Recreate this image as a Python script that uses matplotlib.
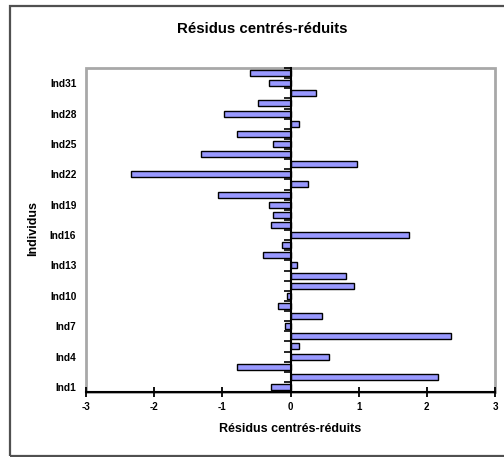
import matplotlib
matplotlib.use("Agg")
import matplotlib.pyplot as plt
from matplotlib.patches import Rectangle
from matplotlib.ticker import FixedLocator
import numpy as np

plt.rcParams['font.family'] = ['Liberation Sans', 'DejaVu Sans']

# Standardised residuals per individual (Ind1 .. Ind32)
individuals = [f"Ind{i}" for i in range(1, 33)]
residuals = [-0.29, 2.16, -0.78, 0.57, 0.13, 2.35, -0.08, 0.46,
             -0.18, -0.05, 0.93, 0.82, 0.10, -0.41, -0.12, 1.74,
             -0.29, -0.26, -0.32, -1.06, 0.25, -2.34, 0.98, -1.32,
             -0.26, -0.79, 0.12, -0.97, -0.47, 0.37, -0.32, -0.59]
x_ticks = [-3, -2, -1, 0, 1, 2, 3]
label_step = 3

W, H = 504, 457
fig = plt.figure(figsize=(W / 100, H / 100), dpi=100)
fig.patch.set_facecolor('white')

# outer chart frame
fig.patches.append(Rectangle((10 / W, 1.5 / H), 1.2, (455.5 - 6) / H,
                             transform=fig.transFigure, fill=False,
                             edgecolor='#505050', linewidth=1.6))

left, right, top, bottom = 86, 495, 68, 392
ax = fig.add_axes([left / W, 1 - bottom / H, (right - left) / W, (bottom - top) / H])

pos = np.arange(1, len(individuals) + 1)
ax.barh(pos, residuals, height=0.6, color='#9999FF', edgecolor='black',
        linewidth=1.0, zorder=3)

ax.set_xlim(-3, 3)
ax.set_ylim(0.5, len(individuals) + 0.5)

# plot-area frame
ax.add_patch(Rectangle((0, 0), 1, 1, transform=ax.transAxes, fill=False,
                       edgecolor='#A8A8A8', linewidth=2, zorder=1, clip_on=False))
for s in ['top', 'left']:
    ax.spines[s].set_visible(False)

# x axis
ax.spines['bottom'].set_color('black')
ax.spines['bottom'].set_linewidth(1.5)
ax.spines['bottom'].set_zorder(5)
ax.set_xticks(x_ticks)
ax.set_xticklabels([str(v) for v in x_ticks], fontsize=7, fontweight='bold')
ax.tick_params(axis='x', direction='inout', length=7, width=1.3, pad=4)

# value axis line at zero, with ticks at category boundaries
ax.spines['right'].set_position(('data', 0))
ax.spines['right'].set_color('black')
ax.spines['right'].set_linewidth(1.5)
ax.spines['right'].set_zorder(5)
ax.yaxis.set_major_locator(FixedLocator(pos[::label_step]))
ax.set_yticklabels(individuals[::label_step], fontsize=7.3, fontweight='bold')
ax.yaxis.set_minor_locator(FixedLocator(np.arange(0.5, len(individuals) + 1)))
ax.tick_params(axis='y', which='major', left=True, right=False, length=0, pad=7)
ax.tick_params(axis='y', which='minor', left=False, right=True, direction='in',
               length=5, width=1.2)

fig.text(262 / W, 1 - 29 / H, "Résidus centrés-réduits", ha='center', va='center',
         fontsize=10.8, fontweight='bold')
fig.text(290 / W, 1 - 429 / H, "Résidus centrés-réduits", ha='center', va='center',
         fontsize=9, fontweight='bold')
fig.text(33 / W, 1 - 228 / H, "Individus", ha='center', va='center', rotation=90,
         fontsize=9, fontweight='bold')

fig.savefig("out.png", dpi=100)
